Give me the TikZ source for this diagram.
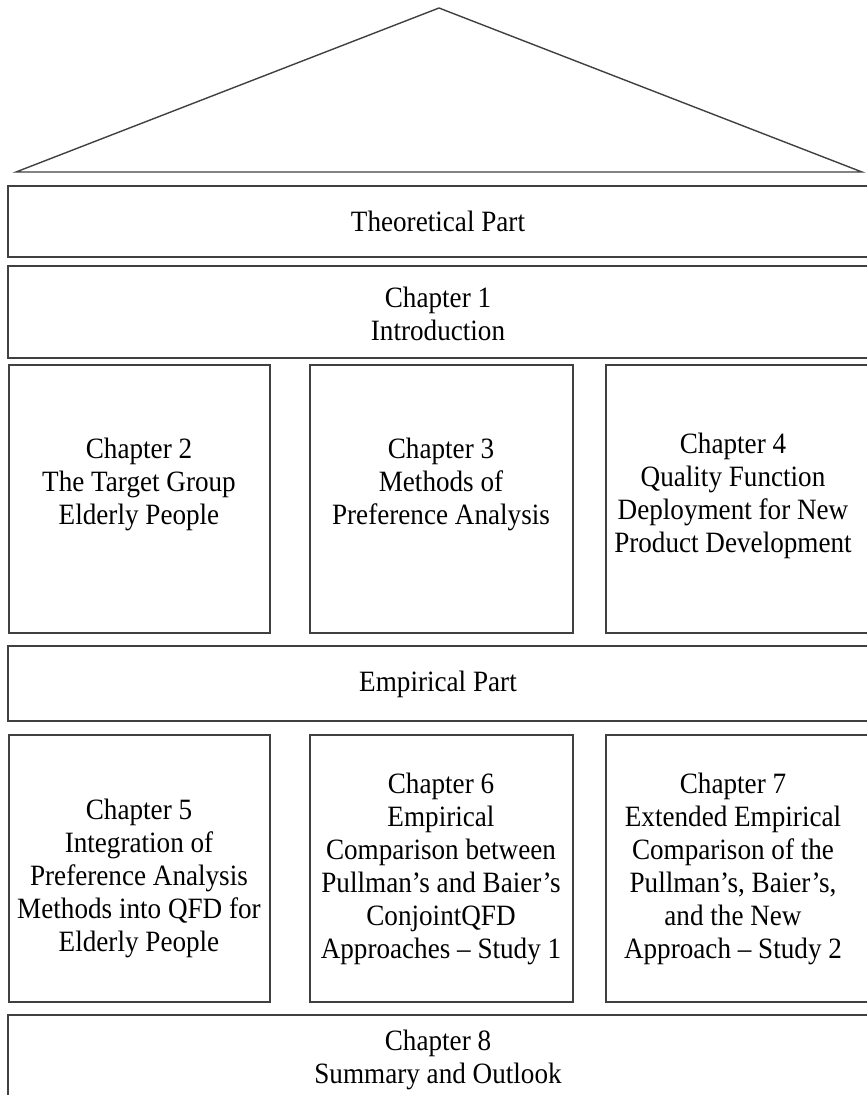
\documentclass[tikz,border=0pt]{standalone}
\usepackage{fontspec}
\setmainfont[FakeStretch=0.92]{Liberation Serif}
\begin{document}
\begin{tikzpicture}[x=1pt,y=-1pt,
  frame/.style={draw=black!75,line width=1.8pt},
  roof/.style={draw=black!75,line width=1.4pt,line join=miter},
  label/.style={align=center,inner sep=0pt,font=\fontsize{29.5}{33}\selectfont,text=black}]
\useasboundingbox (0,0) rectangle (867,1095);

% roof
\draw[roof] (16,172) -- (439,8) -- (862,172) -- cycle;

% full-width bands
\draw[frame] (8,186) rectangle (875,257);
\draw[frame] (8,266) rectangle (875,358);
\draw[frame] (8,646) rectangle (875,721);
\draw[frame] (8,1015) rectangle (875,1110);

% chapter columns, upper row
\draw[frame] (9,365) rectangle (270,633);
\draw[frame] (310,365) rectangle (573,633);
\draw[frame] (606,365) rectangle (875,633);

% chapter columns, lower row
\draw[frame] (9,735) rectangle (270,1002);
\draw[frame] (310,735) rectangle (573,1002);
\draw[frame] (606,735) rectangle (875,1002);

% texts
\node[label] (theo) at (438,221) {Theoretical Part};
\node[label] (ch1) at (438,314) {Chapter 1\\Introduction};
\node[label] (ch2) at (139,484) {Chapter 2\\The Target Group\\Elderly People};
\node[label] (ch3) at (441,484) {Chapter 3\\Methods of\\Preference Analysis};
\node[label] (ch4) at (733,496) {Chapter 4\\Quality Function\\Deployment for New\\Product Development};
\node[label] (emp) at (438,684) {Empirical Part};
\node[label] (ch5) at (139,878) {Chapter 5\\Integration of\\Preference Analysis\\Methods into QFD for\\Elderly People};
\node[label] (ch6) at (441,869) {Chapter 6\\Empirical\\Comparison between\\Pullman’s and Baier’s\\ConjointQFD\\Approaches -- Study 1};
\node[label] (ch7) at (733,869) {Chapter 7\\Extended Empirical\\Comparison of the\\Pullman’s, Baier’s,\\and the New\\Approach -- Study 2};
\node[label] (ch8) at (438,1060) {Chapter 8\\Summary and Outlook};
\end{tikzpicture}
\end{document}
